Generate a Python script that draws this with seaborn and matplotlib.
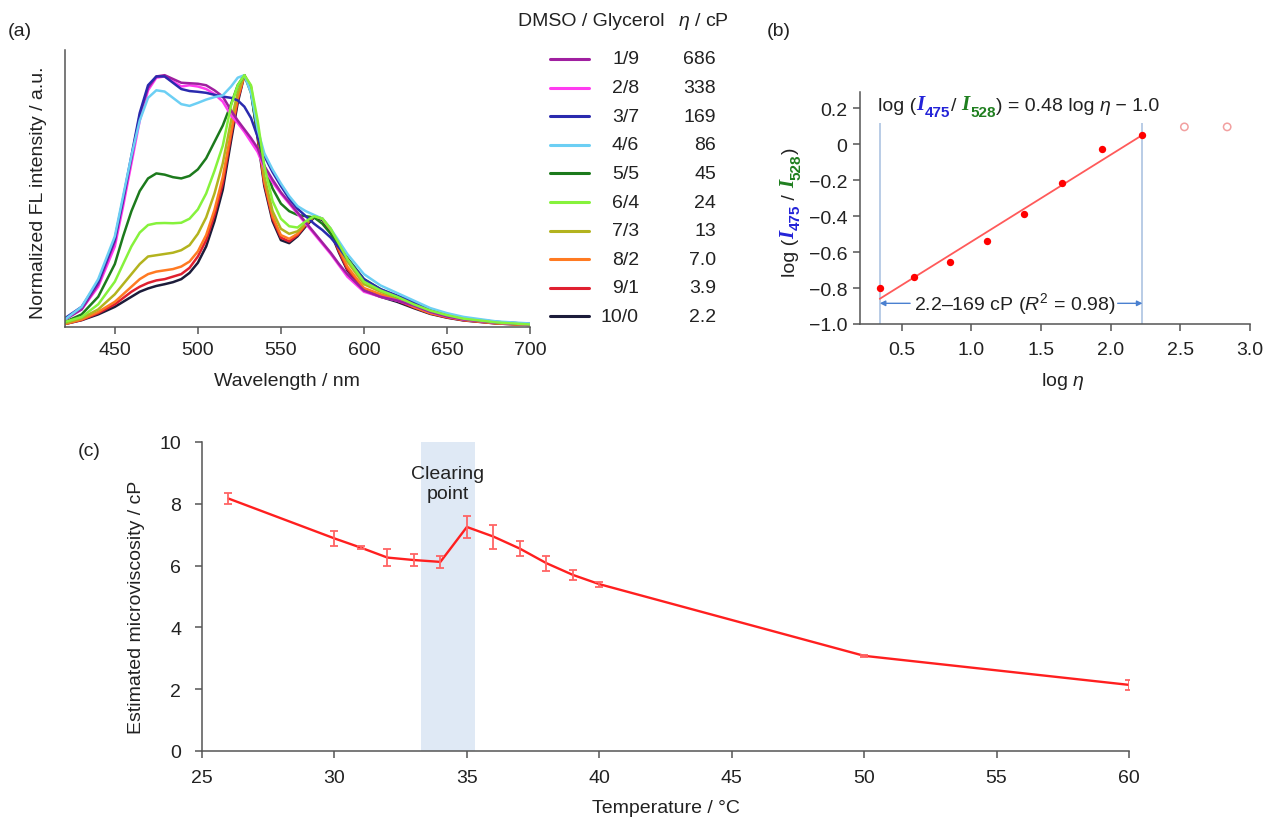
import numpy as np
import pandas as pd
import matplotlib
matplotlib.use("Agg")
import matplotlib.pyplot as plt
import seaborn as sns
from matplotlib.lines import Line2D

# ---------------- data: panel (a) spectra ----------------
wavelength = [420, 430, 440, 450, 455, 460, 465, 470, 475, 480, 485, 490, 495, 500,
              505, 510, 515, 520, 524, 528, 532, 536, 540, 545, 550, 555, 560, 565,
              570, 575, 580, 585, 590, 600, 610, 620, 630, 640, 650, 660, 680, 700]
int_1_9 = [0.03, 0.07, 0.17, 0.34, 0.50, 0.67, 0.84, 0.95, 0.995, 1.00, 0.985, 0.97, 0.968, 0.966,
           0.96, 0.94, 0.915, 0.86, 0.82, 0.785, 0.75, 0.71, 0.64, 0.585, 0.535, 0.495, 0.455, 0.415,
           0.375, 0.335, 0.295, 0.25, 0.21, 0.145, 0.12, 0.105, 0.085, 0.06, 0.042, 0.03, 0.017, 0.01]
int_2_8 = [0.03, 0.07, 0.16, 0.32, 0.48, 0.65, 0.82, 0.94, 0.99, 0.995, 0.975, 0.955, 0.96, 0.955,
           0.945, 0.925, 0.895, 0.84, 0.81, 0.775, 0.735, 0.695, 0.63, 0.575, 0.53, 0.49, 0.45, 0.41,
           0.37, 0.33, 0.29, 0.245, 0.20, 0.14, 0.12, 0.105, 0.085, 0.06, 0.042, 0.03, 0.017, 0.01]
int_3_7 = [0.035, 0.08, 0.18, 0.35, 0.51, 0.68, 0.85, 0.96, 0.995, 0.995, 0.97, 0.945, 0.937, 0.934,
           0.93, 0.922, 0.915, 0.91, 0.90, 0.875, 0.83, 0.755, 0.68, 0.615, 0.56, 0.51, 0.47, 0.44,
           0.41, 0.385, 0.355, 0.315, 0.27, 0.19, 0.15, 0.125, 0.10, 0.07, 0.05, 0.035, 0.02, 0.012]
int_4_6 = [0.03, 0.08, 0.19, 0.36, 0.52, 0.68, 0.82, 0.91, 0.94, 0.935, 0.91, 0.885, 0.878, 0.89,
           0.903, 0.913, 0.92, 0.955, 0.99, 1.00, 0.93, 0.785, 0.69, 0.625, 0.57, 0.52, 0.48, 0.46,
           0.445, 0.43, 0.39, 0.34, 0.29, 0.21, 0.165, 0.135, 0.105, 0.075, 0.055, 0.04, 0.022, 0.014]
int_5_5 = [0.02, 0.05, 0.12, 0.25, 0.36, 0.46, 0.54, 0.59, 0.61, 0.605, 0.595, 0.59, 0.60, 0.626,
           0.67, 0.735, 0.80, 0.885, 0.96, 1.00, 0.93, 0.76, 0.64, 0.55, 0.49, 0.46, 0.445, 0.44,
           0.435, 0.41, 0.37, 0.32, 0.275, 0.19, 0.15, 0.12, 0.095, 0.07, 0.05, 0.035, 0.02, 0.012]
int_6_4 = [0.02, 0.04, 0.09, 0.18, 0.25, 0.32, 0.375, 0.405, 0.412, 0.413, 0.412, 0.414, 0.43, 0.467,
           0.53, 0.62, 0.72, 0.88, 0.96, 1.00, 0.96, 0.82, 0.64, 0.50, 0.43, 0.40, 0.395, 0.42,
           0.44, 0.43, 0.39, 0.33, 0.27, 0.18, 0.145, 0.12, 0.09, 0.065, 0.047, 0.033, 0.018, 0.01]
int_7_3 = [0.015, 0.035, 0.07, 0.13, 0.17, 0.21, 0.25, 0.28, 0.285, 0.29, 0.295, 0.305, 0.325, 0.37,
           0.435, 0.53, 0.65, 0.82, 0.93, 1.00, 0.955, 0.78, 0.60, 0.46, 0.39, 0.37, 0.38, 0.41,
           0.44, 0.43, 0.39, 0.32, 0.26, 0.17, 0.14, 0.115, 0.085, 0.06, 0.043, 0.03, 0.016, 0.009]
int_8_2 = [0.012, 0.03, 0.06, 0.10, 0.13, 0.16, 0.19, 0.21, 0.22, 0.225, 0.23, 0.24, 0.26, 0.30,
           0.365, 0.465, 0.595, 0.775, 0.91, 1.00, 0.95, 0.77, 0.58, 0.44, 0.365, 0.35, 0.37, 0.41,
           0.44, 0.43, 0.385, 0.31, 0.24, 0.155, 0.13, 0.11, 0.08, 0.055, 0.04, 0.028, 0.015, 0.008]
int_9_1 = [0.012, 0.028, 0.055, 0.09, 0.115, 0.14, 0.16, 0.175, 0.185, 0.19, 0.20, 0.21, 0.235, 0.28,
           0.345, 0.445, 0.57, 0.76, 0.90, 1.00, 0.945, 0.76, 0.57, 0.43, 0.355, 0.34, 0.365, 0.405,
           0.44, 0.43, 0.38, 0.30, 0.23, 0.15, 0.125, 0.105, 0.078, 0.054, 0.038, 0.027, 0.014, 0.008]
int_10_0 = [0.012, 0.027, 0.05, 0.08, 0.10, 0.12, 0.14, 0.153, 0.163, 0.17, 0.178, 0.19, 0.215, 0.255,
            0.32, 0.42, 0.545, 0.74, 0.89, 1.00, 0.94, 0.75, 0.56, 0.42, 0.345, 0.333, 0.36, 0.40,
            0.435, 0.425, 0.375, 0.295, 0.225, 0.145, 0.12, 0.10, 0.075, 0.052, 0.037, 0.026, 0.014, 0.008]

ratios = ["1/9", "2/8", "3/7", "4/6", "5/5", "6/4", "7/3", "8/2", "9/1", "10/0"]
viscosity_labels = ["686", "338", "169", "86", "45", "24", "13", "7.0", "3.9", "2.2"]
spectra = [int_1_9, int_2_8, int_3_7, int_4_6, int_5_5, int_6_4, int_7_3, int_8_2, int_9_1, int_10_0]
series_colors = ["#a01fa0", "#ff3cf0", "#2a2aae", "#6ccff4", "#1c7a1c",
                 "#86f23c", "#b3b31e", "#ff7a22", "#e02030", "#1c1c3a"]
draw_order = ["10/0", "9/1", "8/2", "7/3", "5/5", "2/8", "1/9", "3/7", "4/6", "6/4"]

# ---------------- data: panel (b) ----------------
log_eta_fit = [0.342, 0.591, 0.845, 1.114, 1.380, 1.653, 1.934, 2.228]
log_ratio_fit = [-0.80, -0.74, -0.655, -0.54, -0.39, -0.217, -0.027, 0.051]
log_eta_out = [2.529, 2.836]
log_ratio_out = [0.096, 0.096]
fit_slope, fit_intercept = 0.483, -1.025
range_lo, range_hi = 0.342, 2.228

# ---------------- data: panel (c) ----------------
temperature = [26, 30, 31, 32, 33, 34, 35, 36, 37, 38, 39, 40, 50, 60]
microviscosity = [8.17, 6.88, 6.58, 6.26, 6.18, 6.12, 7.25, 6.94, 6.55, 6.08, 5.70, 5.40, 3.08, 2.14]
visc_err = [0.17, 0.25, 0.05, 0.28, 0.20, 0.20, 0.37, 0.39, 0.24, 0.24, 0.17, 0.08, 0.04, 0.17]
clearing_lo, clearing_hi = 33.25, 35.3

# ---------------- style ----------------
FS = 14
sns.set_theme(style="ticks")
plt.rcParams['font.family'] = ['Liberation Sans', 'DejaVu Sans']
plt.rcParams.update({
    'mathtext.fontset': 'custom',
    'mathtext.rm': 'Liberation Sans',
    'mathtext.it': 'Liberation Sans:italic',
    'mathtext.bf': 'Liberation Sans:bold',
    'font.size': FS,
    'axes.edgecolor': '#555555',
    'axes.linewidth': 1.1,
    'xtick.color': '#555555',
    'ytick.color': '#555555',
    'xtick.labelcolor': '#222222',
    'ytick.labelcolor': '#222222',
    'xtick.labelsize': FS,
    'ytick.labelsize': FS,
    'xtick.major.size': 5,
    'ytick.major.size': 5,
    'xtick.major.width': 1.1,
    'ytick.major.width': 1.1,
    'axes.labelcolor': '#222222',
    'axes.labelsize': FS,
    'text.color': '#222222',
})

W, H = 1263, 820
fig = plt.figure(figsize=(W / 100, H / 100), dpi=100)

def fa(l, b, r, t):
    return [l / W, 1 - b / H, (r - l) / W, (b - t) / H]

axA = fig.add_axes(fa(65, 328, 530, 51))
axB = fig.add_axes(fa(860, 325, 1250, 93))
axC = fig.add_axes(fa(202, 752, 1129, 443))

# ---------------- panel (a) ----------------
rows = []
for r, vals in zip(ratios, spectra):
    for w, v in zip(wavelength, vals):
        rows.append((r, w, v))
dfA = pd.DataFrame(rows, columns=["ratio", "wavelength", "intensity"])
palette = dict(zip(ratios, series_colors))
sns.lineplot(data=dfA, x="wavelength", y="intensity", hue="ratio", hue_order=draw_order,
             palette=palette, estimator=None, sort=False, lw=1.8, legend=False, ax=axA)
axA.set_xlim(420, 700)
axA.set_ylim(0, 1.1)
axA.set_xticks([450, 500, 550, 600, 650, 700])
axA.set_yticks([])
axA.tick_params(axis='x', pad=5)
sns.despine(ax=axA)
axA.set_xlabel("Wavelength / nm")
axA.set_ylabel("Normalized FL intensity / a.u.")
axA.xaxis.set_label_coords((287 - 65) / 465, (328 - 381) / 277)
axA.xaxis.label.set_va('center')
axA.yaxis.set_label_coords((39 - 65) / 465, (328 - 193) / 277)
axA.yaxis.label.set_va('center')

# legend table for (a)
fig.text(518 / W, 1 - 22 / H, "DMSO / Glycerol", ha='left', va='center', fontsize=FS)
fig.text(678 / W, 1 - 22 / H, r"$\eta$ / cP", ha='left', va='center', fontsize=FS)
for i, (r, ev, c) in enumerate(zip(ratios, viscosity_labels, series_colors)):
    yy = 1 - (60 + i * 28.6) / H
    fig.add_artist(Line2D([550 / W, 589 / W], [yy, yy], transform=fig.transFigure,
                          color=c, lw=2.2))
    fig.text(639 / W, yy, r, ha='right', va='center', fontsize=FS)
    fig.text(716 / W, yy, ev, ha='right', va='center', fontsize=FS)

# ---------------- panel (b) ----------------
sns.scatterplot(x=log_eta_fit, y=log_ratio_fit, color="#ff0000", s=28, linewidth=0,
                ax=axB, zorder=4)
axB.scatter(log_eta_out, log_ratio_out, s=28, facecolors='none', edgecolors='#f2a0a0',
            linewidths=1.1, zorder=4)
fx = np.array([range_lo, range_hi])
axB.plot(fx, fit_slope * fx + fit_intercept, color="#ff5a5a", lw=1.3, zorder=3)
axB.vlines([range_lo, range_hi], -1.0, 0.12, color="#b9cce6", lw=1.4, zorder=1)
axB.set_xlim(0.2, 3.0)
axB.set_ylim(-1.0, 0.29)
axB.set_xticks([0.5, 1.0, 1.5, 2.0, 2.5, 3.0])
axB.set_xticklabels(["0.5", "1.0", "1.5", "2.0", "2.5", "3.0"])
yt = [-1.0, -0.8, -0.6, -0.4, -0.2, 0.0, 0.2]
axB.set_yticks(yt)
axB.set_yticklabels(["\u22121.0", "\u22120.8", "\u22120.6", "\u22120.4", "\u22120.2", "0", "0.2"])
axB.tick_params(axis='x', pad=7)
axB.tick_params(axis='y', pad=4)
sns.despine(ax=axB)
axB.set_xlabel(r"log $\eta$")
axB.xaxis.set_label_coords((1063 - 860) / 390, (325 - 382) / 232)
axB.xaxis.label.set_va('center')

arrow_kw = dict(arrowstyle='-|>', color='#4a80d0', lw=1.0, mutation_scale=8,
                shrinkA=0, shrinkB=0)
axB.annotate("", xy=(range_lo, -0.885), xytext=(0.56, -0.885), arrowprops=arrow_kw)
axB.annotate("", xy=(range_hi, -0.885), xytext=(2.05, -0.885), arrowprops=arrow_kw)
axB.text(1.31, -0.885, r"2.2–169 cP ($R^2$ = 0.98)", ha='center', va='center', fontsize=FS)

BLUE, GREEN = "#2323d8", "#1f7f1f"
I_kw = dict(fontfamily='Liberation Serif', fontweight='bold', fontstyle='italic', fontsize=15)
sub_kw = dict(fontfamily='Liberation Sans', fontweight='bold', fontsize=11)


def rich(ax, xy, coords, pieces, vertical=False):
    base = None
    prev = None
    for s, kw, sub in pieces:
        kw = dict(kw)
        if prev is None:
            if vertical:
                t = ax.annotate(s, xy=xy, xycoords=coords, ha='right', va='bottom',
                                rotation=90, annotation_clip=False, **kw)
            else:
                t = ax.annotate(s, xy=xy, xycoords=coords, ha='left', va='bottom',
                                annotation_clip=False, **kw)
        elif not vertical:
            off = (0.5, -3.0) if sub else (0, 0)
            t = ax.annotate(s, xy=(1, 0), xycoords=(prev, base), xytext=off,
                            textcoords='offset points', ha='left', va='bottom',
                            annotation_clip=False, **kw)
        else:
            off = (3.0, 0.5) if sub else (0, 0)
            t = ax.annotate(s, xy=(1, 1), xycoords=(base, prev), xytext=off,
                            textcoords='offset points', ha='right', va='bottom',
                            rotation=90, annotation_clip=False, **kw)
        if not sub:
            base = t
        prev = t
    return prev


plain = dict(fontsize=FS, color='#222222')
eq_pieces = [("log (", plain, False),
             ("I", dict(I_kw, color=BLUE), False),
             ("475", dict(sub_kw, color=BLUE), True),
             ("/ ", plain, False),
             ("I", dict(I_kw, color=GREEN), False),
             ("528", dict(sub_kw, color=GREEN), True),
             (") = 0.48 log ", plain, False),
             ("η", dict(plain, fontstyle='italic'), False),
             (" \u2212 1.0", plain, False)]
rich(axB, (0.33, 0.165), 'data', eq_pieces)

yl_pieces = [("log (", plain, False),
             ("I", dict(I_kw, color=BLUE), False),
             ("475", dict(sub_kw, color=BLUE), True),
             (" / ", plain, False),
             ("I", dict(I_kw, color=GREEN), False),
             ("528", dict(sub_kw, color=GREEN), True),
             (")", plain, False)]
rich(axB, (799 / W, 1 - 277 / H), 'figure fraction', yl_pieces, vertical=True)

# ---------------- panel (c) ----------------
axC.axvspan(clearing_lo, clearing_hi, ymin=0, ymax=1, facecolor="#dfe9f5",
            edgecolor="none", zorder=0)
sns.lineplot(x=temperature, y=microviscosity, color="#ff1f1f", lw=1.7, ax=axC, zorder=3)
axC.errorbar(temperature, microviscosity, yerr=visc_err, fmt='none', ecolor="#ff6464",
             elinewidth=1.3, capsize=3, capthick=1.3, zorder=4)
xc = (clearing_lo + clearing_hi) / 2
axC.text(xc, 8.66, "Clearing\npoint", ha='center', va='center', fontsize=FS,
         linespacing=1.2)
axC.set_xlim(25, 60)
axC.set_ylim(0, 10)
axC.set_xticks([25, 30, 35, 40, 45, 50, 55, 60])
axC.set_yticks([0, 2, 4, 6, 8, 10])
axC.tick_params(axis='x', pad=8)
axC.tick_params(axis='y', pad=10)
sns.despine(ax=axC)
axC.set_xlabel("Temperature / °C")
axC.set_ylabel("Estimated microviscosity / cP")
axC.xaxis.set_label_coords(0.5, (752 - 809) / 309)
axC.xaxis.label.set_va('center')
axC.yaxis.set_label_coords((137 - 202) / 927, (752 - 607) / 309)
axC.yaxis.label.set_va('center')

# panel letters
fig.text(8 / W, 1 - 32 / H, "(a)", ha='left', va='center', fontsize=FS)
fig.text(767 / W, 1 - 32 / H, "(b)", ha='left', va='center', fontsize=FS)
fig.text(78 / W, 1 - 452 / H, "(c)", ha='left', va='center', fontsize=FS)

fig.savefig("out.png", dpi=100)
